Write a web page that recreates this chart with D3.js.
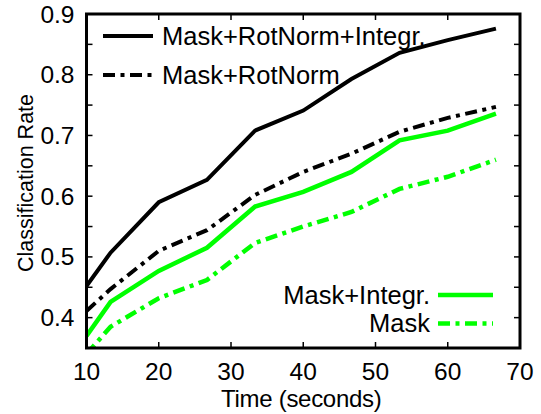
<!DOCTYPE html>
<html>
<head>
<meta charset="utf-8">
<script src="https://cdn.jsdelivr.net/npm/d3@7"></script>
<style>
  body { margin: 0; background: #fff; }
  svg { display: block; font-family: "Liberation Sans", Arial, Helvetica, sans-serif; }
</style>
</head>
<body>
<div id="chart"></div>
<script>
// Data
var times = [10, 13.33, 20, 26.67, 33.33, 40, 46.67, 53.33, 60, 66.67];
var maskRotInt = [0.452, 0.507, 0.590, 0.627, 0.708, 0.741, 0.793, 0.836, 0.857, 0.876];
var maskRot    = [0.411, 0.447, 0.510, 0.544, 0.602, 0.640, 0.670, 0.706, 0.729, 0.747];
var maskInt    = [0.370, 0.426, 0.477, 0.515, 0.583, 0.607, 0.640, 0.692, 0.708, 0.736];
var mask       = [0.340, 0.385, 0.432, 0.462, 0.523, 0.550, 0.574, 0.612, 0.632, 0.660];
var xTicks = [10, 20, 30, 40, 50, 60, 70];
var yTicks = [0.4, 0.5, 0.6, 0.7, 0.8, 0.9];

var width = 541, height = 414;
var margin = {top: 14, right: 21, bottom: 66, left: 86.5};
var w = width - margin.left - margin.right,
    h = height - margin.top - margin.bottom;

var dashDot = "12,5.5,4,5.5";

var series = [
  {name: "Mask+RotNorm+Integr.", values: maskRotInt, color: "#000", dash: null, width: 4},
  {name: "Mask+RotNorm", values: maskRot, color: "#000", dash: dashDot, width: 4},
  {name: "Mask+Integr.", values: maskInt, color: "#00ff00", dash: null, width: 4.5},
  {name: "Mask", values: mask, color: "#00ff00", dash: dashDot, width: 4.5}
];

var svg = d3.select("#chart").append("svg")
    .attr("width", width)
    .attr("height", height);

var g = svg.append("g")
    .attr("transform", "translate(" + margin.left + "," + margin.top + ")");

var x = d3.scaleLinear().domain([10, 70]).range([0, w]);
var y = d3.scaleLinear().domain([0.35, 0.9]).range([h, 0]);

g.append("clipPath").attr("id", "clip")
  .append("rect").attr("width", w).attr("height", h);

// ticks (inside, all four sides)
var tickLen = 6;
var ax = g.append("g").attr("stroke", "#000").attr("stroke-width", 1.5);
xTicks.forEach(function (t) {
  ax.append("line").attr("x1", x(t)).attr("x2", x(t)).attr("y1", h).attr("y2", h - tickLen);
  ax.append("line").attr("x1", x(t)).attr("x2", x(t)).attr("y1", 0).attr("y2", tickLen);
});
d3.range(0.35, 0.9001, 0.05).forEach(function (t) {
  ax.append("line").attr("x1", 0).attr("x2", tickLen).attr("y1", y(t)).attr("y2", y(t));
  ax.append("line").attr("x1", w).attr("x2", w - tickLen).attr("y1", y(t)).attr("y2", y(t));
});

// tick labels
g.selectAll(".xl").data(xTicks).enter().append("text")
    .attr("x", function (d) { return x(d); })
    .attr("y", h + 31.5)
    .attr("text-anchor", "middle")
    .style("font-size", "24.5px")
    .text(function (d) { return d; });

g.selectAll(".yl").data(yTicks).enter().append("text")
    .attr("x", -12)
    .attr("y", function (d) { return y(d) + 8.5; })
    .attr("text-anchor", "end")
    .style("font-size", "24.5px")
    .text(function (d) { return d3.format(".1f")(d); });

// axis titles
g.append("text")
    .attr("x", w / 2 - 2)
    .attr("y", h + 58.5)
    .attr("text-anchor", "middle")
    .style("font-size", "24px")
    .style("letter-spacing", "-0.3px")
    .text("Time (seconds)");

g.append("text")
    .attr("transform", "translate(-54," + (h / 2 + 2) + ") rotate(-90)")
    .attr("text-anchor", "middle")
    .style("font-size", "21.5px")
    .text("Classification Rate");

// lines
var line = d3.line()
    .x(function (d, i) { return x(times[i]); })
    .y(function (d) { return y(d); });

g.append("g").attr("clip-path", "url(#clip)")
  .selectAll("path").data(series).enter().append("path")
    .attr("d", function (s) { return line(s.values); })
    .attr("fill", "none")
    .attr("stroke", function (s) { return s.color; })
    .attr("stroke-width", function (s) { return s.width; })
    .attr("stroke-dasharray", function (s) { return s.dash; })
    .attr("stroke-linejoin", "miter");

// frame
g.append("rect")
    .attr("width", w).attr("height", h)
    .attr("fill", "none")
    .attr("stroke", "#000")
    .attr("stroke-width", 3);

// legends
var topLeg = [series[0], series[1]];
var legTop = g.append("g");
topLeg.forEach(function (s, i) {
  var ly = 22 + i * 39;
  legTop.append("line")
      .attr("x1", 103 - margin.left).attr("x2", 153 - margin.left)
      .attr("y1", ly).attr("y2", ly)
      .attr("stroke", s.color).attr("stroke-width", s.width)
      .attr("stroke-dasharray", s.dash);
  legTop.append("text")
      .attr("x", 162 - margin.left).attr("y", ly + 8.5)
      .style("font-size", "25.5px")
      .text(s.name);
});

var botLeg = [series[2], series[3]];
var legBot = g.append("g");
botLeg.forEach(function (s, i) {
  var ly = 281 + i * 28.5;
  legBot.append("line")
      .attr("x1", 438 - margin.left).attr("x2", 493 - margin.left)
      .attr("y1", ly).attr("y2", ly)
      .attr("stroke", s.color).attr("stroke-width", s.width)
      .attr("stroke-dasharray", s.dash);
  legBot.append("text")
      .attr("x", 430 - margin.left).attr("y", ly + 8.5)
      .attr("text-anchor", "end")
      .style("font-size", "25.5px")
      .text(s.name);
});
</script>
</body>
</html>
